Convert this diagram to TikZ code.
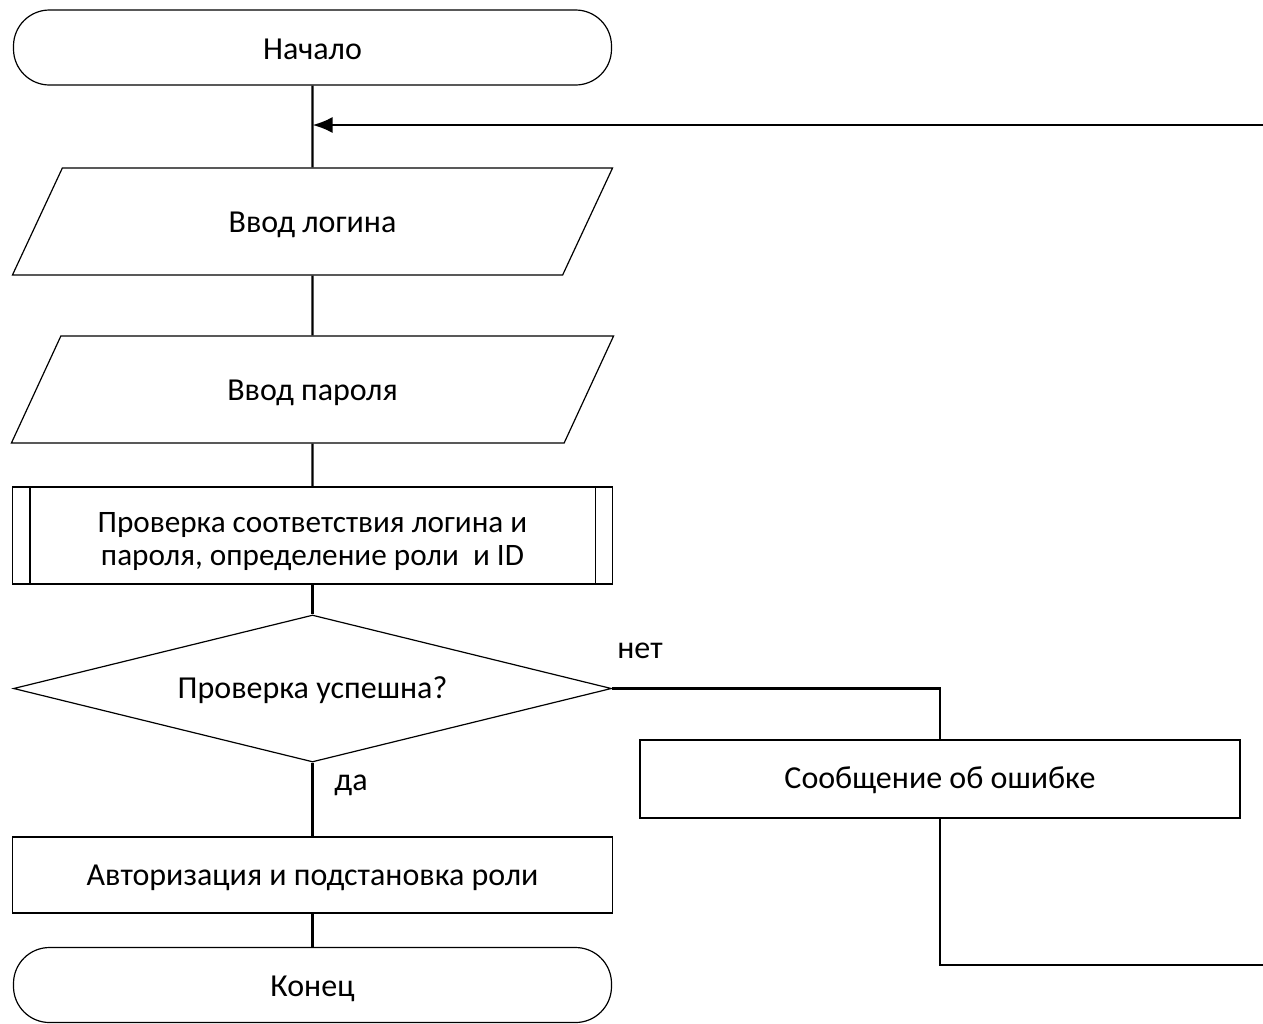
\documentclass[tikz,border=0pt]{standalone}
\usepackage{fontspec}
\setmainfont{Carlito}
\usetikzlibrary{shapes.geometric,arrows.meta,calc}
% lower a text inside its node while keeping the node's size
\newcommand\lowertext[2]{\raisebox{-#1}[\height][\depth]{#2}}

\begin{document}
\begin{tikzpicture}[x=0.5pt,y=-0.5pt,
  font=\fontsize{16}{17}\selectfont,
  shape line/.style={draw=black,line width=0.6pt,inner sep=0pt},
  terminal/.style={shape line,rectangle,rounded corners=18pt,minimum width=299pt,minimum height=37.5pt},
  iobox/.style={shape line,trapezium,trapezium left angle=57,trapezium right angle=123,
    trapezium stretches=true,minimum width=301.5pt,minimum height=53.5pt},
  procbox/.style={shape line,rectangle,minimum width=300pt,minimum height=38pt},
  subproc/.style={shape line,rectangle,minimum width=300pt,minimum height=48.5pt,align=center},
  decision/.style={shape line,diamond,minimum width=299pt,minimum height=73.5pt,aspect=4.07},
  flow/.style={draw=black,line width=1.2pt},
  lbl/.style={inner sep=0pt}
]
\useasboundingbox (0,0) rectangle (1263,1023);

% main column of the flowchart
\node[terminal] (start) at (312.5,47.5) {\lowertext{1pt}{Начало}};
\node[iobox] (login) at (312.5,221.5) {\lowertext{1.5pt}{Ввод логина}};
\node[iobox] (pass) at (312.5,389.5) {\lowertext{1.5pt}{Ввод пароля}};
\node[subproc] (chk) at (312.5,535.5) {\lowertext{3.5pt}{\fontsize{15.6}{17}\selectfont\begin{tabular}{@{}c@{}}Проверка соответствия логина и\\[-0.5pt]пароля, определение роли\ \ и ID\end{tabular}}};
\draw[line width=0.6pt] ($(chk.north west)+(18,0)$) -- ($(chk.south west)+(18,0)$);
\draw[line width=0.6pt] ($(chk.north east)+(-18,0)$) -- ($(chk.south east)+(-18,0)$);
\node[decision] (dec) at (312.5,688.5) {\lowertext{1pt}{Проверка успешна?}};
\node[procbox] (auth) at (312.5,875) {\lowertext{1.5pt}{Авторизация и подстановка роли}};
\node[terminal] (stop) at (312.5,985) {\lowertext{2pt}{Конец}};

% error branch
\node[procbox,minimum height=39pt] (err) at (940,779) {\lowertext{0.5pt}{Сообщение об ошибке}};

\coordinate (join) at (312.5,125);
\coordinate (rtop) at (1263,125);
\coordinate (rbot) at (1263,965);

% connectors
\draw[flow] (start.south) -- (login.north);
\draw[flow] (login.south) -- (pass.north);
\draw[flow] (pass.south) -- (chk.north);
\draw[flow] (chk.south) -- (dec.north);
\draw[flow] (dec.south) -- (auth.north);
\draw[flow] (auth.south) -- (stop.north);
\draw[flow] (dec.east) -| (err.north);
\draw[flow] (err.south) |- (rbot);
\draw[flow,-{Latex[length=10pt,width=8pt]}] (rtop) -- (join);

% branch labels
\node[lbl] (no) at (640,651) {нет};
\node[lbl] (yes) at (351,785) {да};
\end{tikzpicture}
\end{document}
